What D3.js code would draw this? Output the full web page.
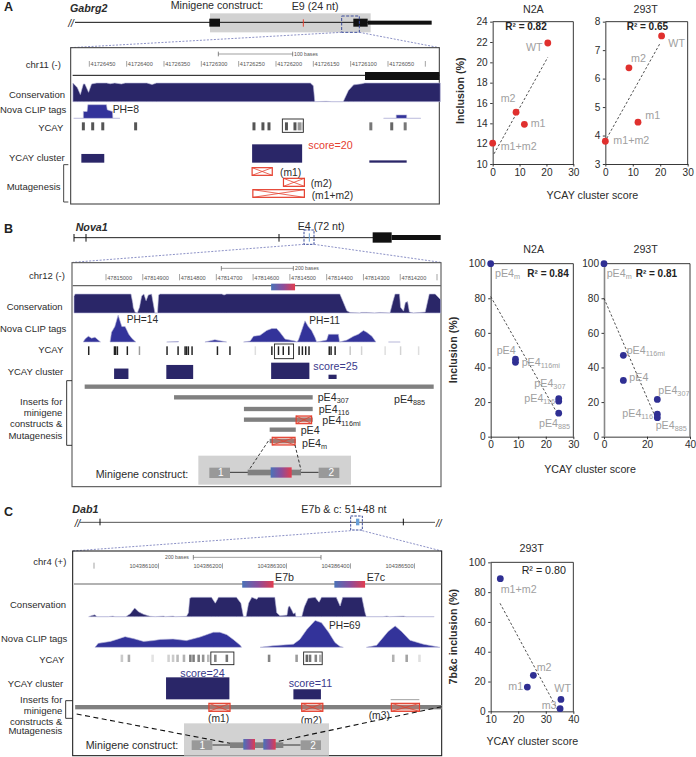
<!DOCTYPE html>
<html><head><meta charset="utf-8">
<script src="https://cdn.jsdelivr.net/npm/d3@7"></script>
<style>
html,body{margin:0;padding:0;background:#fff}
svg{display:block}
text{font-family:"Liberation Sans",Arial,sans-serif;fill:#2c2c2c}
</style></head><body>
<div id="chart"></div>
<script>
// ---------- Scatter data ----------
const A_N2A_labels=["WT","m2","m1","m1+m2"];
const A_scores=[20.5,8.7,11.8,0];
const A_N2A_incl=[21.9,15.1,13.9,12.05];
const A_293_scores=[20.5,8.6,11.9,0];
const A_293_incl=[7.5,6.38,4.47,3.8];
const B_N2A_scores=[0,9,9,24.7,24.7,24.7];
const B_N2A_incl=[100,44.8,43,22,20.5,13.6];
const B_293_scores=[0,9,9,24.8,24.8,24.8];
const B_293_incl=[100,47,32.5,21.5,13,11];
const C_scores=[13.5,25.5,23.3,35.5,35.2];
const C_incl=[89,24.2,16.3,8,1.8];
const C_labels=["m1+m2","m2","m1","WT","m3"];
const A_N2A_trend=[[0.5,11],[20.5,20.5]];
const A_293_trend=[[0.5,3.9],[20,7.25]];
const B_N2A_trend=[[0,81],[24,14]];
const B_293_trend=[[0,80],[24.5,9.6]];
const C_trend=[[13.4,72.5],[34.6,0]];

// ---------- Panel A genome tracks (bases downstream of first tick, strand -) ----------
const A_tick_labels=[41726450,41726400,41726350,41726300,41726250,41726200,41726150,41726100,41726050];
const A_cons=[[-22,100],[-16,75],[-12,38],[-8,95],[-6,95],[-1,50],[3,95],[10,100],[23,100],[28,96],[34,100],[43,95],[48,100],[77,100],[84,92],[90,100],[296,100],[300,85],[302,0],[317,2],[325,0],[340,0],[347,60],[354,90],[365,96],[369,100],[470,100]];
const A_clip=[[-21,0],[-8,0],[-8,4],[-3,4],[-2,8],[23,8],[24,5],[31,4],[31.5,0],[41,0],[42,null],[394,0],[411,0],[411,2],[425,2],[425,0],[444,0]];
const A_ycay=[[-8,1],[4.5,1],[18,1],[62,1],[220.5,1],[232.5,1],[240.6,1],[264,1],[275.4,1],[281,.6],[284,.35],[377,.8],[405,.9],[423,.8]];
const A_ycay_box=[258.5,286.6];
const A_clusters=[[-10.7,20,9.5],[218,285,20],[375,425,2.5]];
const A_mut=[[218,245],[260,288],[219,288]];

// ---------- Panel B ----------
const B_tick_labels=[47815000,47814900,47814800,47814700,47814600,47814500,47814400,47814300,47814200];
const B_cons=[[-87,88],[-84,100],[68,100],[73,50],[74,30],[79,5],[85,0],[91,30],[97,90],[103,100],[109,65],[115,95],[124,100],[129,45],[133,0],[140,0],[143,95],[147,100],[315,100],[321,95],[328,100],[636,100],[655,12],[664,2],[690,0],[695,3],[709,3],[730,0],[745,3],[772,0],[780,60],[786,100],[798,100],[801,30],[809,10],[814,55],[820,60],[825,5],[836,0],[868,5],[872,40],[879,100],[895,100],[910,70]];
const B_clip=[[-62,0],[-57,1.5],[-48,3],[-39,2],[-30,2.5],[-21,1],[-15,0],[-14,null],[11,0],[15,5],[24,8],[33,14],[43,8],[52,8],[62,4],[70,2],[81,0],[82,null],[165,0],[197,0.2],[198,null],[269,0],[296,1.2],[328,0],[329,null],[374,0],[392,.5],[401,3],[419,3.5],[437,6],[451,7],[464,7],[473,5],[487,1.5],[514,.5],[519,0],[523,1],[532,6],[541,11],[550,8],[559,6],[568,2.5],[573,0],[600,1],[605,4],[632,4],[635,0],[655,1],[673,3],[686,4],[700,6],[709,5],[723,3],[734,0],[735,null],[768,0],[800,0]];
const B_ycay=[[-47,1],[23,1],[26,1],[31,1],[58,1],[91,.45],[166,1],[196,1],[215,1],[219,1],[224,1],[234,1],[303,1],[337,1],[406,.15],[451,1],[469,1],[482,1],[497,1],[525,1],[534,1],[543,1],[552,1],[607,1],[612,1],[623,1],[664,.25],[695,.2],[759,.15],[801,.2],[850,.15]];
const B_ycay_box=[458,510];
const B_clusters=[[22,61,16],[164,237,21.5],[449,553,25],[605,627,6.6]];
const B_inserts=[[-58,891],[185,562],[375,562],[375,562],[445,516],[445,516]];
const B_mut=[[517,559],[452,514]];
const B_exon=[449,514];

// ---------- Panel C ----------
const C_tick_labels=[104386100,104386200,104386300,104386400,104386500];
const C_cons=[[-10,0],[-5,6],[0,10],[3,0],[21,0],[28,3],[31,0],[48,0],[55,15],[62,45],[68,25],[76,12],[86,2],[94,0],[107,3],[110,0],[122,3],[125,0],[143,2],[146,20],[148,95],[151,100],[182,100],[188,70],[193,100],[221,100],[228,70],[232,0],[236,0],[240,70],[245,100],[253,90],[255,100],[281,100],[284,20],[289,5],[300,8],[302,50],[304,55],[308,30],[310,15],[313,20],[314,0],[323,0],[327,50],[333,95],[344,100],[350,75],[354,100],[377,100],[383,55],[387,100],[417,100],[422,20],[424,0],[450,0],[456,3],[460,0],[482,3],[486,0],[530,0]];
const C_clip=[[0,0],[5,10],[24,15],[34,20],[47,27],[60,22],[76,15],[91,17],[102,20],[122,21],[143,17],[164,26],[185,38],[195,38],[206,32],[216,20],[227,5],[229,0],[230,null],[258,0],[278,4],[310,8],[320,20],[331,45],[344,68],[354,62],[365,38],[375,12],[383,2],[388,0],[389,null],[424,0],[440,5],[445,15],[458,40],[469,54],[479,40],[492,18],[513,8],[539,0]];
const C_ycay=[[42,.35],[53,.55],[90,.18],[115,.3],[122,.35],[129,.45],[139,.5],[149,.85],[154,.85],[162,.8],[169,.7],[177,.45],[188,.8],[206,.9],[272,.8],[315,.65],[331,1],[336,.9],[345,.8],[352,.5],[466,.5],[487,.6],[507,.2]];
const C_ycay_boxes=[[181,217],[326,355]];
const C_clusters=[[111,210,24],[310,353,11]];
const C_insert=[-31,542];
const C_mut=[[178,211],[323,356],[463,507]];
const C_exons=[[230,279],[374,422]];

// ---------- Gene models (schematic positions along the gene diagrams) ----------
const GENE_A_line=[225,1110];
const GENE_A_exon=[[628,660],[1060,1103]];
const GENE_A_utr=[1103,1295];
const GENE_A_shade=[630,1112];
const GENE_A_alt=[910];
const GENE_A_zoom=[1025,1078];
const GENE_B_line=[222,1120];
const GENE_B_ticks=[222,258,837];
const GENE_B_exon=[[1118,1175]];
const GENE_B_utr=[1175,1322];
const GENE_B_alt=[928];
const GENE_B_zoom=[912,942];
const GENE_C_line=[240,1305];
const GENE_C_ticks=[300,1210];
const GENE_C_alt=[1073];
const GENE_C_zoom=[1052,1087];

const NAVY="#2a2668",CLIPBLUE="#33339a",RED="#e5402f",DOTRED="#e0302e",DOTBLUE="#2f2f93",GREY="#a0a0a0",BAR="#808080",SHADE="#d2d2d2",YCAYC="#222";
const BIG=10.7;

const W=696,H=757;
const svg=d3.select("#chart").append("svg").attr("width",W).attr("height",H);
const defs=svg.append("defs");
const grad=defs.append("linearGradient").attr("id","ex");
[[0,"#4a72b8"],[.5,"#8a4e9c"],[1,"#e23c4e"]].forEach(s=>grad.append("stop").attr("offset",s[0]).attr("stop-color",s[1]));

// schematic scale: layout grid of 3 units per pixel
const Z=d3.scaleLinear().domain([0,3]).range([0,1]);

function T(g,s,x,y,o={}){
  const t=g.append("text").attr("x",Z(x)).attr("y",Z(y)).attr("font-size",o.size||9.5)
    .attr("text-anchor",o.anchor||"start").style("fill",o.fill||"#2c2c2c");
  if(o.weight)t.attr("font-weight",o.weight);
  if(o.style)t.attr("font-style",o.style);
  t.text(s);return t;
}
function Sub(g,s,sub,x,y,o={}){
  const t=T(g,s,x,y,o);
  if(sub)t.append("tspan").attr("font-size",(o.size||9.5)*.68).attr("dy",2).style("fill",o.fill||"#2c2c2c").text(sub);
  return t;
}
function R(g,x0,y0,x1,y1,fill,o={}){
  return g.append("rect").attr("x",Z(x0)).attr("y",Z(y0)).attr("width",Z(x1-x0)).attr("height",Z(y1-y0))
    .attr("fill",fill).attr("stroke",o.stroke||"none").attr("stroke-width",o.sw||0)
    .attr("stroke-dasharray",o.dash||null);
}
function L(g,x0,y0,x1,y1,stroke,sw,dash){
  return g.append("line").attr("x1",Z(x0)).attr("y1",Z(y0)).attr("x2",Z(x1)).attr("y2",Z(y1))
    .attr("stroke",stroke).attr("stroke-width",sw).attr("stroke-dasharray",dash||null);
}
function crossBox(g,x0,x1,y0,y1,fill){
  R(g,x0,y0,x1,y1,fill||"none",{stroke:RED,sw:1.2});
  L(g,x0,y0,x1,y1,RED,.8);L(g,x0,y1,x1,y0,RED,.8);
}
function area(g,data,x,base,top,max,fill){
  const y=d3.scaleLinear().domain([0,max]).range([Z(base),Z(top)]);
  const a=d3.area().defined(d=>d[1]!=null).x(d=>x(d[0])).y0(y(0)).y1(d=>y(d[1]));
  g.append("path").attr("d",a(data)).attr("fill",fill).attr("stroke","#b9b9da").attr("stroke-width",.6);
}
function ycay(g,data,x,y0,y1,dark,boxes){
  g.selectAll(null).data(data).join("rect")
   .attr("x",d=>x(d[0]-2)).attr("width",d=>Math.abs(x(d[0]+2)-x(d[0]-2)))
   .attr("y",Z(y0)).attr("height",Z(y1-y0)).attr("fill",dark).attr("opacity",d=>d[1]);
  boxes.forEach(b=>g.append("rect").attr("x",x(b[0])).attr("width",x(b[1])-x(b[0]))
    .attr("y",Z(y0-8)).attr("height",Z(y1-y0+16)).attr("fill","none").attr("stroke","#222").attr("stroke-width",.9));
}
function clusters(g,data,x,base,unit){
  const y=d3.scaleLinear().domain([0,1]).range([Z(base),Z(base-unit)]);
  g.selectAll(null).data(data).join("rect")
   .attr("x",d=>x(d[0])).attr("width",d=>x(d[1])-x(d[0]))
   .attr("y",d=>y(d[2])).attr("height",d=>y(0)-y(d[2])).attr("fill",NAVY);
}
function connector(g,a,b,c,d,e,f){
  L(g,a,b,c,d,"#5a62ad",.7,"2,1.5");L(g,e,b,f,d,"#5a62ad",.7,"2,1.5");
}
function scaleBar(g,x0,x1,y){
  L(g,x0,y,x1,y,"#777",.7);L(g,x0,y-7,x0,y+7,"#555",.7);L(g,x1,y-7,x1,y+7,"#555",.7);
}

// ================ PANEL A ================
{
 const g=svg.append("g");
 T(g,"A",12,34,{size:12.5,weight:"bold",fill:"#222"});
 T(g,"Gabrg2",210,36,{size:BIG,weight:"bold",style:"italic"});
 T(g,"Minigene construct:",512,26,{size:BIG});
 T(g,"E9 (24 nt)",875,30,{size:BIG});
 R(g,GENE_A_shade[0],40,GENE_A_shade[1],97,SHADE);
 L(g,GENE_A_line[0],67,GENE_A_line[1],67,"#111",1);
 T(g,"//",205,82,{size:10,style:"italic",fill:"#111"});
 GENE_A_exon.forEach(e=>R(g,e[0],56,e[1],80,"#111"));
 R(g,GENE_A_utr[0],62,GENE_A_utr[1],74,"#111");
 GENE_A_alt.forEach(x=>L(g,x,58,x,80,RED,1));
 R(g,GENE_A_zoom[0],48,GENE_A_zoom[1],97,"none",{stroke:"#3c4c9c",sw:1,dash:"3,1.5"});
 connector(g,1025,97,212,143,1078,1318);

 const x=d3.scaleLinear().domain([0,450]).range([Z(268),Z(1276)]);
 R(g,212,143,1318,612,"none",{stroke:"#444",sw:1.1});
 T(g,"chr11 (-)",130,205,{anchor:"middle"});
 T(g,"Conservation",27,293);T(g,"Nova CLIP tags",0,340);
 T(g,"YCAY",190,393,{anchor:"end"});T(g,"YCAY cluster",27,482);T(g,"Mutagenesis",20,570);
 g.append("path").attr("d",`M${Z(205)},${Z(494)}H${Z(191)}V${Z(606)}H${Z(205)}`).attr("fill","none").attr("stroke","#333").attr("stroke-width",.9);
 scaleBar(g,655,878,162);T(g,"100 bases",882,169,{size:5.2,fill:"#555"});
 A_tick_labels.forEach(v=>{
  const d=41726450-v,px=x(d);
  g.append("line").attr("x1",px).attr("x2",px).attr("y1",Z(183)).attr("y2",Z(200)).attr("stroke","#666").attr("stroke-width",.6);
  g.append("text").attr("x",px+1.2).attr("y",Z(197)).attr("font-size",5.6).style("fill","#555").text(v);
 });
 {const px=x(450);g.append("line").attr("x1",px).attr("x2",px).attr("y1",Z(183)).attr("y2",Z(200)).attr("stroke","#666").attr("stroke-width",.6);}
 L(g,218,226,1318,226,"#111",1);
 R(g,1095,216,1318,240,"#111");
 area(g,A_cons,x,305,249,100,NAVY);
 area(g,A_clip,x,355,314,8,CLIPBLUE);
 T(g,"PH=8",338,340,{size:10.4});
 ycay(g,A_ycay,x,367,391,"#555",[]);
 g.append("rect").attr("x",x(A_ycay_box[0])).attr("width",x(A_ycay_box[1])-x(A_ycay_box[0])).attr("y",Z(357)).attr("height",Z(40)).attr("fill","none").attr("stroke","#222").attr("stroke-width",.9);
 clusters(g,A_clusters,x,488,2.75);
 T(g,"score=20",925,446,{fill:RED,size:BIG});
 const rows=[[503,526],[535,559],[569,592]];
 A_mut.forEach((m,i)=>crossBox(g,x(m[0])*3,x(m[1])*3,rows[i][0],rows[i][1]));
 const s={size:10.3};
 T(g,"(m1)",840,529,s);T(g,"(m2)",932,561,s);T(g,"(m1+m2)",935,596,s);
}

// ================ PANEL B ================
{
 const g=svg.append("g").attr("transform","translate(0,215)");
 T(g,"B",12,55,{size:12.5,weight:"bold",fill:"#222"});
 T(g,"Nova1",227,48,{weight:"bold",style:"italic",size:BIG});
 T(g,"E4 (72 nt)",893,44,{size:BIG});
 L(g,GENE_B_line[0],68,GENE_B_line[1],68,"#222",1);
 GENE_B_ticks.forEach(t=>L(g,t,57,t,80,"#111",1));
 GENE_B_exon.forEach(e=>R(g,e[0],52,e[1],83,"#111"));
 R(g,GENE_B_utr[0],60,GENE_B_utr[1],75,"#111");
 GENE_B_alt.forEach(t=>L(g,t,55,t,80,"#6aa0d8",1));
 R(g,GENE_B_zoom[0],45,GENE_B_zoom[1],88,"none",{stroke:"#3c4c9c",sw:1,dash:"2.5,1.2"});
 connector(g,912,88,218,142,942,1322);

 const x=d3.scaleLinear().domain([0,900]).range([Z(318),Z(1311)]);
 R(g,216,143,1323,815,"none",{stroke:"#555",sw:1.1});
 T(g,"chr12 (-)",87,191);T(g,"Conservation",20,285);T(g,"Nova CLIP tags",0,350);
 T(g,"YCAY",190,413,{anchor:"end"});T(g,"YCAY cluster",23,479);
 T(g,"Inserts for",187,570,{anchor:"end"});T(g,"minigene",187,603,{anchor:"end"});
 T(g,"constructs &",187,637,{anchor:"end"});T(g,"Mutagenesis",187,671,{anchor:"end"});
 g.append("path").attr("d",`M${Z(216)},${Z(497)}H${Z(200)}V${Z(691)}H${Z(216)}`).attr("fill","none").attr("stroke","#222").attr("stroke-width",.9);
 scaleBar(g,664,880,160);T(g,"200 bases",885,165,{size:5.2,fill:"#555"});
 B_tick_labels.forEach(v=>{
  const px=x(47815000-v);
  g.append("line").attr("x1",px).attr("x2",px).attr("y1",Z(177)).attr("y2",Z(196)).attr("stroke","#666").attr("stroke-width",.6);
  g.append("text").attr("x",px+1.2).attr("y",Z(195)).attr("font-size",5.6).style("fill","#555").text(v);
 });
 {const px=x(900);g.append("line").attr("x1",px).attr("x2",px).attr("y1",Z(177)).attr("y2",Z(196)).attr("stroke","#666").attr("stroke-width",.6);}
 L(g,218,212,1323,212,"#666",1.1);
 g.append("rect").attr("x",x(B_exon[0])).attr("width",x(B_exon[1])-x(B_exon[0])).attr("y",Z(206)).attr("height",Z(20)).attr("fill","url(#ex)");
 area(g,B_cons,x,294,237,100,NAVY);
 area(g,B_clip,x,381,300,14,CLIPBLUE);
 T(g,"PH=14",380,325,{size:10.2});T(g,"PH=11",928,328,{size:10.2});
 ycay(g,B_ycay,x,394,420,YCAYC,[]);
 g.append("rect").attr("x",x(B_ycay_box[0])).attr("width",x(B_ycay_box[1])-x(B_ycay_box[0])).attr("y",Z(387)).attr("height",Z(44)).attr("fill","none").attr("stroke","#222").attr("stroke-width",.9);
 clusters(g,B_clusters,x,492,1.96);
 T(g,"score=25",940,466,{fill:"#3a3a8c",size:BIG});
 const ys=[515,547,582,614,644,678];
 B_inserts.forEach((b,i)=>g.append("rect").attr("x",x(b[0])).attr("width",x(b[1])-x(b[0])).attr("y",Z(ys[i]-6.5)).attr("height",Z(13)).attr("fill",BAR));
 crossBox(g,x(B_mut[0][0])*3,x(B_mut[0][1])*3,603,626,"rgba(230,110,90,.35)");
 crossBox(g,x(B_mut[1][0])*3,x(B_mut[1][1])*3,667,690,"rgba(230,110,90,.35)");
 const s={size:BIG};
 Sub(g,"pE4","307",953,558,s);Sub(g,"pE4","116",956,594,s);
 Sub(g,"pE4","116mi",967,628,s);Sub(g,"pE4","",902,658,s);
 Sub(g,"pE4","m",906,695,s);Sub(g,"pE4","885",1182,564,s);
 R(g,595,722,1053,809,SHADE);
 L(g,805,678,745,768,"#222",.9,"3,2");L(g,885,690,903,765,"#222",.9,"3,2");
 L(g,690,772,956,772,"#222",.9);
 R(g,628,758,690,789,"#999");R(g,956,758,1018,789,"#999");
 T(g,"1",662,782,{anchor:"middle",fill:"#fff",size:10});T(g,"2",994,782,{anchor:"middle",fill:"#fff",size:10});
 R(g,743,764,903,781,BAR);R(g,812,757,875,788,"url(#ex)");
 T(g,"Minigene construct:",287,790,{size:BIG});
}

// ================ PANEL C ================
{
 const g=svg.append("g").attr("transform","translate(0,490)");
 T(g,"C",12,78,{size:12.5,weight:"bold",fill:"#222"});
 T(g,"Dab1",217,70,{weight:"bold",style:"italic",size:BIG});
 T(g,"E7b & c: 51+48 nt",904,70,{size:BIG});
 L(g,GENE_C_line[0],97,GENE_C_line[1],97,"#555",1);
 T(g,"//",224,110,{size:10,style:"italic",fill:"#111"});T(g,"//",1308,110,{size:10,style:"italic",fill:"#111"});
 GENE_C_ticks.forEach(t=>L(g,t,86,t,106,"#111",1));
 GENE_C_alt.forEach(t=>R(g,t-5,86,t+5,106,"#6aa0d8"));
 R(g,GENE_C_zoom[0],78,GENE_C_zoom[1],120,"none",{stroke:"#3c4c9c",sw:1,dash:"2.5,1.2"});
 connector(g,1052,122,218,183,1087,1325);

 const x=d3.scaleLinear().domain([0,500]).range([Z(285),Z(1245)]);
 R(g,218,183,1325,797,"none",{stroke:"#222",sw:1.1});
 T(g,"chr4 (+)",100,225);T(g,"Conservation",30,355);T(g,"Nova CLIP tags",3,457);
 T(g,"YCAY",193,518,{anchor:"end"});T(g,"YCAY cluster",23,592);
 T(g,"Inserts for",187,638,{anchor:"end"});T(g,"minigene",187,671,{anchor:"end"});
 T(g,"constructs &",187,704,{anchor:"end"});T(g,"Mutagenesis",187,733,{anchor:"end"});
 g.append("path").attr("d",`M${Z(218)},${Z(632)}H${Z(197)}V${Z(685)}H${Z(218)}`).attr("fill","none").attr("stroke","#222").attr("stroke-width",.9);
 scaleBar(g,580,963,202);T(g,"200 bases",495,208,{size:5.2,fill:"#555"});
 {const px=x(0)-1;g.append("line").attr("x1",px).attr("x2",px).attr("y1",Z(218)).attr("y2",Z(236)).attr("stroke","#666").attr("stroke-width",.6);}
 C_tick_labels.forEach(v=>{
  const px=x(v-104386000)-.5;
  g.append("line").attr("x1",px).attr("x2",px).attr("y1",Z(220)).attr("y2",Z(236)).attr("stroke","#666").attr("stroke-width",.6);
  g.append("text").attr("x",px-1).attr("y",Z(233)).attr("text-anchor","end").attr("font-size",5.6).style("fill","#555").text(v);
 });
 L(g,222,282,1325,282,"#666",1.1);
 C_exons.forEach(e=>g.append("rect").attr("x",x(e[0])).attr("width",x(e[1])-x(e[0])).attr("y",Z(273)).attr("height",Z(20)).attr("fill","url(#ex)"));
 T(g,"E7b",825,273,{size:BIG});T(g,"E7c",1100,273,{size:BIG});
 area(g,C_cons,x,380,322,100,NAVY);
 area(g,C_clip,x,472,390,69,CLIPBLUE);
 T(g,"PH=69",987,416,{size:10.2});
 ycay(g,C_ycay,x,494,516,"#666",C_ycay_boxes);
 clusters(g,C_clusters,x,628,2.75);
 T(g,"score=24",541,562,{fill:"#3a3a8c",size:BIG});T(g,"score=11",866,592,{fill:"#3a3a8c",size:BIG});
 g.append("rect").attr("x",x(C_insert[0])).attr("width",x(C_insert[1])-x(C_insert[0])).attr("y",Z(645)).attr("height",Z(13)).attr("fill",BAR);
 C_mut.forEach(m=>crossBox(g,x(m[0])*3,x(m[1])*3,640,664,"rgba(230,110,90,.35)"));
 L(g,1172,629,1258,629,"#777",.7);
 const s={size:10.3};
 T(g,"(m1)",624,696,s);T(g,"(m2)",902,702,s);T(g,"(m3)",1106,686,s);
 R(g,552,700,987,797,SHADE);
 L(g,230,672,690,760,"#111",1.1,"5,3.5");L(g,1325,650,830,755,"#111",1.1,"5,3.5");
 L(g,637,765,902,765,"#222",.9);
 R(g,575,751,637,780,"#999");R(g,902,751,963,780,"#999");
 T(g,"1",607,776,{anchor:"middle",fill:"#fff",size:10});T(g,"2",939,776,{anchor:"middle",fill:"#fff",size:10});
 R(g,690,757,850,774,BAR);
 R(g,730,747,765,779,"url(#ex)");R(g,790,747,827,779,"url(#ex)");
 T(g,"Minigene construct:",257,777,{size:BIG});
}

// ================ SCATTERS ================
function scatter(o){
 const g=svg.append("g").attr("transform",`translate(${o.ox},${o.oy})`);
 const x=d3.scaleLinear().domain(o.xd).range([Z(o.xr[0]),Z(o.xr[1])]);
 const y=d3.scaleLinear().domain(o.yd).range([Z(o.yr[0]),Z(o.yr[1])]);
 const ax=g.append("g").attr("transform",`translate(0,${y.range()[0]})`).call(d3.axisBottom(x).tickValues(o.xt).tickFormat(d3.format("d")).tickSizeInner(2.5).tickSizeOuter(0).tickPadding(2));
 const ay=g.append("g").attr("transform",`translate(${x.range()[0]},0)`).call(d3.axisLeft(y).tickValues(o.yt).tickFormat(d3.format("d")).tickSizeInner(2.5).tickSizeOuter(0).tickPadding(2.5));
 [ax,ay].forEach(a=>{a.selectAll("text").attr("font-size",10.1).attr("font-family",null).style("fill","#2c2c2c");a.selectAll("line,path").attr("stroke","#222").attr("stroke-width",.9);});
 if(o.leftGrey)ay.select("path").attr("stroke","#888").attr("stroke-width",1.6);
 g.append("path").attr("d",`M${x.range()[0]},${y.range()[1]}H${x.range()[1]}V${y.range()[0]}`).attr("fill","none").attr("stroke","#222").attr("stroke-width",.9);
 g.append("path").attr("d",d3.line().x(d=>x(d[0])).y(d=>y(d[1]))(o.trend)).attr("fill","none").attr("stroke","#222").attr("stroke-width",.8).attr("stroke-dasharray","2.4,2");
 g.selectAll(null).data(d3.zip(o.xs,o.ys)).join("circle").attr("cx",d=>x(d[0])).attr("cy",d=>y(d[1])).attr("r",3.4).attr("fill",o.color);
 T(g,o.title,o.tx,o.ty,{anchor:"middle",size:BIG});
 T(g,o.r2,o.rx,o.ry,{weight:o.rw,size:o.rw==="bold"?10:BIG,fill:"#222"});
 o.labels.forEach(l=>Sub(g,l[0],l[1],l[2],l[3],{fill:GREY,size:l[4]||BIG}));
}
scatter({ox:450,oy:0,xd:[0,30],xr:[128,370],yd:[10,24],yr:[492,65],xt:[0,10,20,30],yt:d3.range(10,25,2),
 xs:A_scores,ys:A_N2A_incl,color:DOTRED,trend:A_N2A_trend,title:"N2A",tx:250,ty:38,r2:"R² = 0.82",rx:166,ry:90,rw:"bold",
 labels:[[A_N2A_labels[0],"",228,153],[A_N2A_labels[1],"",152,307],[A_N2A_labels[2],"",242,380],[A_N2A_labels[3],"",152,451]]});
scatter({ox:450,oy:0,xd:[0,30],xr:[466,713],yd:[3,8],yr:[492,65],xt:[0,10,20,30],yt:d3.range(3,9),
 xs:A_293_scores,ys:A_293_incl,color:DOTRED,trend:A_293_trend,title:"293T",tx:587,ty:38,r2:"R² = 0.65",rx:530,ry:90,rw:"bold",
 labels:[[A_N2A_labels[0],"",655,140],[A_N2A_labels[1],"",543,185],[A_N2A_labels[2],"",586,357],[A_N2A_labels[3],"",490,433]]});
T(svg.append("g").attr("transform","translate(450,0)"),"YCAY cluster score",427,597,{anchor:"middle",size:BIG});
svg.append("text").attr("transform",`translate(${450+42/3},${272/3}) rotate(-90)`).attr("text-anchor","middle").attr("font-size",BIG).attr("font-weight","bold").text("Inclusion (%)");

scatter({ox:450,oy:220,xd:[0,30],xr:[122,370],yd:[0,100],yr:[650,131],xt:[0,10,20,30],yt:d3.range(0,101,20),
 xs:B_N2A_scores,ys:B_N2A_incl,color:DOTBLUE,trend:B_N2A_trend,title:"N2A",tx:251,ty:98,r2:"R² = 0.84",rx:232,ry:172,rw:"bold",
 labels:[["pE4","m",135,171],["pE4","",140,403],["pE4","116mi",215,437],["pE4","307",253,502],["pE4","116",223,546],["pE4","885",267,622]]});
scatter({ox:450,oy:220,xd:[0,40],xr:[462,720],yd:[0,100],yr:[650,131],xt:[0,20,40],yt:d3.range(0,101,20),leftGrey:true,
 xs:B_293_scores,ys:B_293_incl,color:DOTBLUE,trend:B_293_trend,title:"293T",tx:587,ty:98,r2:"R² = 0.81",rx:557,ry:172,rw:"bold",
 labels:[["pE4","m",470,170],["pE4","116mi",530,403],["pE4","",538,484],["pE4","307",625,521],["pE4","116",517,590],["pE4","885",617,626]]});
T(svg.append("g").attr("transform","translate(450,220)"),"YCAY cluster score",420,760,{anchor:"middle",size:BIG});
svg.append("text").attr("transform",`translate(${450+20/3},${220+390/3}) rotate(-90)`).attr("text-anchor","middle").attr("font-size",BIG).attr("font-weight","bold").text("Inclusion (%)");

scatter({ox:450,oy:510,xd:[10,40],xr:[122,370],yd:[0,100],yr:[604,157],xt:[10,20,30,40],yt:d3.range(0,101,20),
 xs:C_scores,ys:C_incl,color:DOTBLUE,trend:C_trend,title:"293T",tx:245,ty:125,r2:"R² = 0.80",rx:215,ry:191,rw:"normal",
 labels:C_labels.map((n,i)=>[n,"",[152,260,175,313,275][i],[248,482,541,546,597][i]])});
T(svg.append("g").attr("transform","translate(450,510)"),"YCAY cluster score",247,706,{anchor:"middle",size:BIG});
svg.append("text").attr("transform",`translate(${450+20/3},${510+380/3}) rotate(-90)`).attr("text-anchor","middle").attr("font-size",BIG).attr("font-weight","bold").text("7b&c inclusion (%)");
</script>
</body></html>
